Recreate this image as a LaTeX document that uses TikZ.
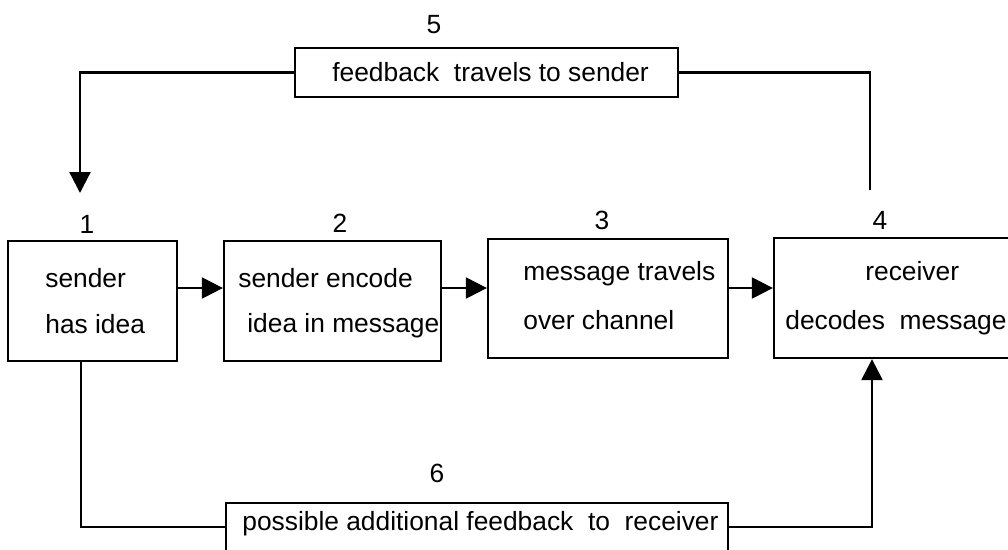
\documentclass[tikz,border=0pt]{standalone}
\usepackage{fontspec}
\setmainfont{Liberation Sans}
\usetikzlibrary{arrows.meta,fit}
\begin{document}
\begin{tikzpicture}[x=0.02cm,y=-0.02cm,
  box/.style={draw,line width=1.3pt,inner sep=0pt},
  txt/.style={inner sep=0pt,anchor=base west,font=\fontsize{15}{18}\selectfont},
  num/.style={inner sep=0pt,anchor=base,font=\fontsize{15}{18}\selectfont},
  conn/.style={line width=1.3pt},
  arr/.style={conn,-{Triangle[length=0.42cm,width=0.42cm]}}]
\useasboundingbox (0,0) rectangle (1008,549);
\clip (0,0) rectangle (1008,549);
\fill[white] (0,0) rectangle (1008,549);
% boxes
\node[box,fit={(8,241) (177,361)}] (b1) {};
\node[box,fit={(224,241) (441,361)}] (b2) {};
\node[box,fit={(488,239) (728,358)}] (b3) {};
\node[box,fit={(774,238) (1040,358)}] (b4) {};
\node[box,fit={(295,48) (678,97)}] (b5) {};
\node[box,fit={(226,503) (728,580)}] (b6) {};
% box texts
\node[txt] (t1a) at (45,287) {sender};
\node[txt] (t1b) at (45,333) {has idea};
\node[txt] (t2a) at (238,287) {sender encode};
\node[txt] (t2b) at (247,332) {idea in message};
\node[txt] (t3a) at (523,280) {message travels};
\node[txt] (t3b) at (523,329) {over channel};
\node[txt] (t4a) at (865,280) {receiver};
\node[txt] (t4b) at (785,329) {decodes\ \ message};
\node[txt] (t5) at (332,81) {feedback\ \ travels to sender};
\node[txt] (t6) at (242,530) {possible additional feedback\ \ to\ \ receiver};
% numbers
\node[num] (n1) at (87,233) {1};
\node[num] (n2) at (340,232) {2};
\node[num] (n3) at (602,229) {3};
\node[num] (n4) at (880,229) {4};
\node[num] (n5) at (434,33) {5};
\node[num] (n6) at (437,482) {6};
% helper coordinates
\coordinate (ay) at (0,288);
\coordinate (ly) at (0,527);
\coordinate (lx) at (81,0);
\coordinate (rx) at (872,0);
\coordinate (c1) at (80,193);
\coordinate (c4) at (870,190);
% connectors
\draw[arr] (b1.east |- ay) -- (b2.west |- ay);
\draw[arr] (b2.east |- ay) -- (b3.west |- ay);
\draw[arr] (b3.east |- ay) -- (b4.west |- ay);
\draw[arr] (b5.west) -| (c1);
\draw[conn] (b5.east) -| (c4);
\draw[conn] (b1.south -| lx) |- (b6.west |- ly);
\draw[arr] (b6.east |- ly) -| (b4.south -| rx);
\end{tikzpicture}
\end{document}
